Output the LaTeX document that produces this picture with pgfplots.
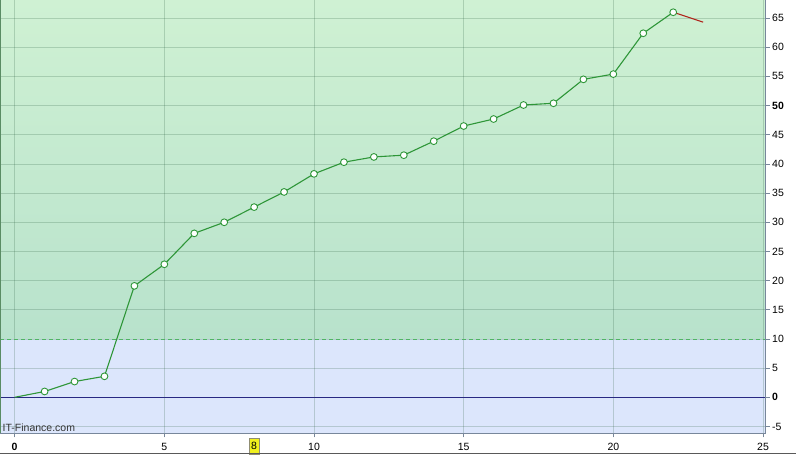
\documentclass[border=0pt]{standalone}
\usepackage{fontspec}
\setmainfont{Liberation Sans}
\usepackage{pgfplots}
\pgfplotsset{compat=1.18}
\usepackage{pgfplotstable}

\definecolor{greentop}{RGB}{207,241,211}
\definecolor{greenbot}{RGB}{184,226,204}
\definecolor{bluezone}{RGB}{220,230,252}
\definecolor{linegreen}{RGB}{46,150,56}
\definecolor{segred}{RGB}{176,40,30}
\definecolor{zeroline}{RGB}{40,40,130}
\definecolor{dashgreen}{RGB}{80,180,100}
\definecolor{gridc}{RGB}{40,90,60}
\definecolor{rightax}{RGB}{120,135,155}
\definecolor{leftax}{RGB}{90,140,100}
\definecolor{hiyellow}{RGB}{240,240,30}

\pgfplotstableread{
x y
0 0
1 1.0
2 2.7
3 3.6
4 19.1
5 22.8
6 28.1
7 30.0
8 32.6
9 35.2
10 38.3
11 40.3
12 41.2
13 41.5
14 43.9
15 46.5
16 47.7
17 50.1
18 50.4
19 54.5
20 55.4
21 62.4
22 66.0
}\series

\pgfplotstableread{
x y
22 66.0
23 64.3
}\tail

\begin{document}
\begin{tikzpicture}
\fill[white] (0,-21.7bp) rectangle (796bp,433.3bp);
% background zones: below and above the level 10
\fill[bluezone] (0,0) rectangle (765.7bp,94.34bp);
\shade[top color=greentop, bottom color=greenbot] (0,94.34bp) rectangle (765.7bp,433.3bp);
\begin{axis}[
    name=ax,
    at={(0,0)}, anchor=south west,
    scale only axis,
    width=765.7bp, height=433.3bp,
    xmin=-0.49, xmax=25.09,
    ymin=-6.17, ymax=68.1,
    xtick={0,5,10,15,20,25},
    xticklabels={\textbf{0},5,10,15,20,25},
    ytick={-5,0,5,10,15,20,25,30,35,40,45,50,55,60,65},
    yticklabels={-5,\textbf{0},5,10,15,20,25,30,35,40,45,\textbf{50},55,60,65},
    extra x ticks={8},
    extra x tick labels={8},
    extra x tick style={grid=none, major tick length=0pt,
        xticklabel style={fill=hiyellow, draw=gray!80!olive, inner xsep=2.2bp,
            minimum height=16.2bp, yshift=-2.6bp}},
    xtick pos=left, ytick pos=right,
    yticklabel pos=right,
    tick align=outside,
    major tick length=4bp,
    tick style={rightax, line width=0.8bp},
    axis line style={draw=none},
    grid=major,
    major grid style={gridc, opacity=0.22, line width=0.8bp},
    tick label style={font=\fontsize{10.5bp}{12bp}\selectfont, text=black},
    xticklabel style={anchor=center, yshift=-10bp},
    yticklabel style={anchor=west, xshift=-1bp},
    /pgf/number format/assume math mode=true,
]
\draw[dashgreen, line width=0.8bp, dash pattern=on 4bp off 3bp] (axis cs:-0.49,10) -- (axis cs:25.09,10);
\draw[zeroline, line width=1bp] (axis cs:-0.49,0) -- (axis cs:25.09,0);
\addplot[segred, line width=1.1bp, no markers] table[x=x, y=y] {\tail};
\addplot[linegreen, line width=1.1bp, mark=*,
    mark indices={2,3,4,5,6,7,8,9,10,11,12,13,14,15,16,17,18,19,20,21,22,23},
    mark size=3.4bp,
    mark options={fill=white, draw=linegreen, line width=0.9bp}]
    table[x=x, y=y] {\series};
\end{axis}
\draw[leftax, line width=1.5bp] (ax.south west) -- (ax.north west);
\draw[rightax, line width=1bp] (ax.south east) -- (ax.north east);
\draw[rightax, line width=1bp] (ax.south west) -- (ax.south east);
\draw[gray!70!black, line width=1bp] (0,-20.2bp) -- (796bp,-20.2bp);
\node[anchor=base west, inner sep=0pt, text=black!80, font=\fontsize{10.5bp}{12bp}\selectfont] at (2.5bp,1.8bp) {IT-Finance.com};
\pgfresetboundingbox
\path (0,-21.7bp) rectangle (796bp,433.3bp);
\end{tikzpicture}
\end{document}
